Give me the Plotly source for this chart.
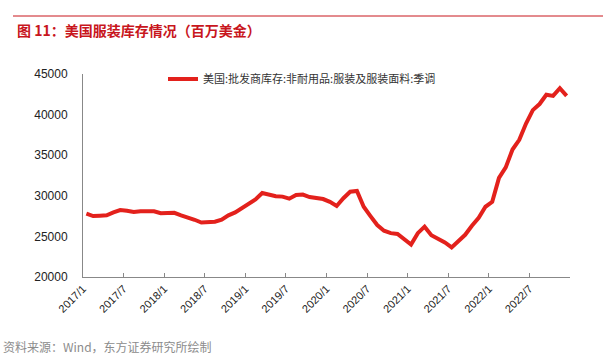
import plotly.graph_objects as go

# ---- data ----
months = [f"{y}/{m}" for y in range(2017, 2023) for m in range(1, 13)]
inventory = [
    27800, 27500, 27550, 27600, 27950, 28250, 28150, 28000, 28100, 28100, 28100, 27850,
    27900, 27900, 27600, 27350, 27050, 26700, 26750, 26800, 27050, 27600, 27950, 28450,
    28950, 29550, 30350, 30150, 29950, 29900, 29650, 30100, 30150, 29850, 29750, 29600,
    29250, 28750, 29700, 30500, 30600, 28650, 27500, 26400, 25700, 25400, 25300, 24650,
    24000, 25400, 26200, 25150, 24750, 24250, 23650, 24350, 25200, 26300, 27300, 28650,
    29250, 32200, 33500, 35700, 36900, 38900, 40550, 41300, 42450, 42300, 43250, 42300,
]
tick_labels = ["2017/1", "2017/7", "2018/1", "2018/7", "2019/1", "2019/7",
               "2020/1", "2020/7", "2021/1", "2021/7", "2022/1", "2022/7"]
y_ticks = [20000, 25000, 30000, 35000, 40000, 45000]
series_name = "美国:批发商库存:非耐用品:服装及服装面料:季调"
title_text = "图 11：美国服装库存情况（百万美金）"
source_text = "资料来源：Wind，东方证券研究所绘制"

W, H = 616, 356
L, R, T, B = 83, 570, 74, 277  # plot area in pixels

def px_x(p):
    return (p - L) / (R - L)

def px_y(p):
    return (B - p) / (B - T)

FONT = "Liberation Sans, Arial, Noto Sans CJK SC, sans-serif"
CJK = "Noto Sans CJK SC, sans-serif"

x_idx = list(range(len(months)))
# ticks sit on category boundaries, one label every 6 months
tickvals = [i * 6 - 0.5 for i in range(len(tick_labels))] + [len(months) - 0.5]
ticktext = tick_labels + [""]

fig = go.Figure()
fig.add_trace(go.Scatter(
    x=x_idx, y=inventory, mode="lines", name=series_name,
    line=dict(color="#e3211c", width=4),
    hovertext=months,
))

fig.update_layout(
    width=W, height=H,
    margin=dict(l=L, r=W - R, t=T, b=H - B, pad=0),
    paper_bgcolor="white", plot_bgcolor="white",
    font=dict(family=FONT, size=11, color="#222"),
    showlegend=True,
    legend=dict(
        x=px_x(163), y=px_y(79), xanchor="left", yanchor="middle",
        bgcolor="rgba(0,0,0,0)",
        font=dict(size=11, color="#333", family=CJK),
        itemwidth=30,
    ),
    xaxis=dict(
        range=[-0.5, len(months) - 0.5],
        tickmode="array", tickvals=tickvals, ticktext=ticktext,
        tickangle=-45, ticks="inside", ticklen=4, tickcolor="#888",
        showline=True, linecolor="#888", linewidth=1,
        showgrid=False, zeroline=False,
        tickfont=dict(size=11, color="#222"),
    ),
    yaxis=dict(
        range=[20000, 45000], tickmode="array", tickvals=y_ticks,
        ticktext=[str(v) for v in y_ticks],
        showline=True, linecolor="#888", linewidth=1,
        showgrid=False, zeroline=False, ticks="",
        tickfont=dict(size=12, color="#222"),
        ticklabelstandoff=12,
    ),
    shapes=[dict(
        type="line", xref="paper", yref="paper",
        x0=px_x(13), x1=px_x(603), y0=px_y(16), y1=px_y(16),
        line=dict(color="#c8161d", width=1),
    )],
    annotations=[
        dict(text=f"<b>{title_text}</b>", xref="paper", yref="paper",
             x=px_x(15), y=px_y(30), xanchor="left", yanchor="middle",
             showarrow=False,
             font=dict(size=14, color="#c8161d", family=CJK)),
        dict(text=source_text, xref="paper", yref="paper",
             x=px_x(1), y=px_y(346), xanchor="left", yanchor="middle",
             showarrow=False,
             font=dict(size=12, color="#8c8c8c", family=CJK)),
    ],
)

fig.write_html("out.html", config={"displayModeBar": False},
               post_script="document.body.style.margin='0px';")
